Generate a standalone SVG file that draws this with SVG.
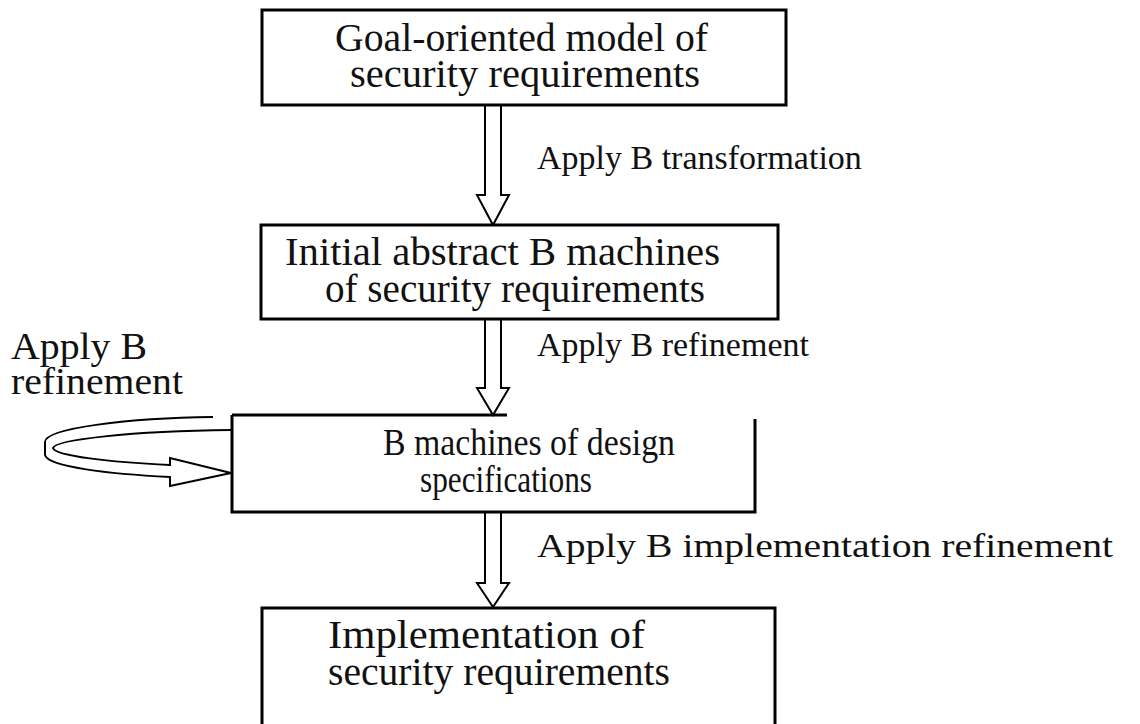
<svg xmlns="http://www.w3.org/2000/svg" width="1140" height="724" viewBox="0 0 1140 724">
<style>
.box{fill:#fff;stroke:#000;stroke-width:3}
.edge{fill:none;stroke:#000;stroke-width:3}
.t{font-family:"Liberation Serif","Times New Roman",serif;font-size:39px;fill:#111}
.s{font-family:"Liberation Serif","Times New Roman",serif;font-size:37px;fill:#111}
.l{font-family:"Liberation Serif","Times New Roman",serif;font-size:34px;fill:#111}
.m{font-family:"Liberation Serif","Times New Roman",serif;font-size:37px;fill:#111}
.arr{fill:#fff;stroke:#000;stroke-width:2;stroke-linejoin:miter}
</style>
<rect width="1140" height="724" fill="#fff"/>
<g id="connectors">
<path class="arr" d="M485,105 L485,195 L477,195 L493,225 L509,195 L501,195 L501,105"/>
<path class="arr" d="M485,319 L485,388 L477,388 L493,415 L509,388 L501,388 L501,319"/>
<path class="arr" d="M485,512 L485,583 L477,583 L493,607 L509,583 L501,583 L501,512"/>
<path id="loop" class="arr" d="M213,417 C130,418 45,428 45,442 L45,455 C48,467 110,474 170,477 L170,486 L231,473 L170,458 L170,465 C110,462 55,456 53,448 C55,440 130,431 231,430"/>
</g>
<g id="node1">
<rect class="box" x="262" y="10" width="524" height="95"/>
<text class="t" x="335" y="51" textLength="373" lengthAdjust="spacingAndGlyphs">Goal-oriented model of</text>
<text class="t" x="350" y="87" textLength="350" lengthAdjust="spacingAndGlyphs">security requirements</text>
</g>
<g id="node2">
<rect class="box" x="261" y="225" width="517" height="94"/>
<text class="t" x="285" y="265" textLength="435" lengthAdjust="spacingAndGlyphs">Initial abstract B machines</text>
<text class="t" x="325" y="302" textLength="380" lengthAdjust="spacingAndGlyphs">of security requirements</text>
</g>
<g id="node3">
<path class="edge" d="M232,415 L507,415 M232,415 L232,512 L755,512 L755,419"/>
<text class="s" x="383" y="455" textLength="292" lengthAdjust="spacingAndGlyphs">B machines of design</text>
<text class="s" x="420" y="492" textLength="172" lengthAdjust="spacingAndGlyphs">specifications</text>
</g>
<g id="node4">
<path class="edge" d="M262,730 L262,608 L775,608 L775,730"/>
<text class="t" x="328" y="648" textLength="317" lengthAdjust="spacingAndGlyphs">Implementation of</text>
<text class="t" x="328" y="685" textLength="342" lengthAdjust="spacingAndGlyphs">security requirements</text>
</g>
<g id="labels">
<text class="l" x="537" y="169">Apply B transformation</text>
<text class="l" x="537" y="356">Apply B refinement</text>
<text class="l" x="537" y="557" textLength="576" lengthAdjust="spacingAndGlyphs">Apply B implementation refinement</text>
<text class="m" x="11" y="359" textLength="136" lengthAdjust="spacingAndGlyphs">Apply B</text>
<text class="m" x="11" y="394" textLength="172" lengthAdjust="spacingAndGlyphs">refinement</text>
</g>
</svg>
